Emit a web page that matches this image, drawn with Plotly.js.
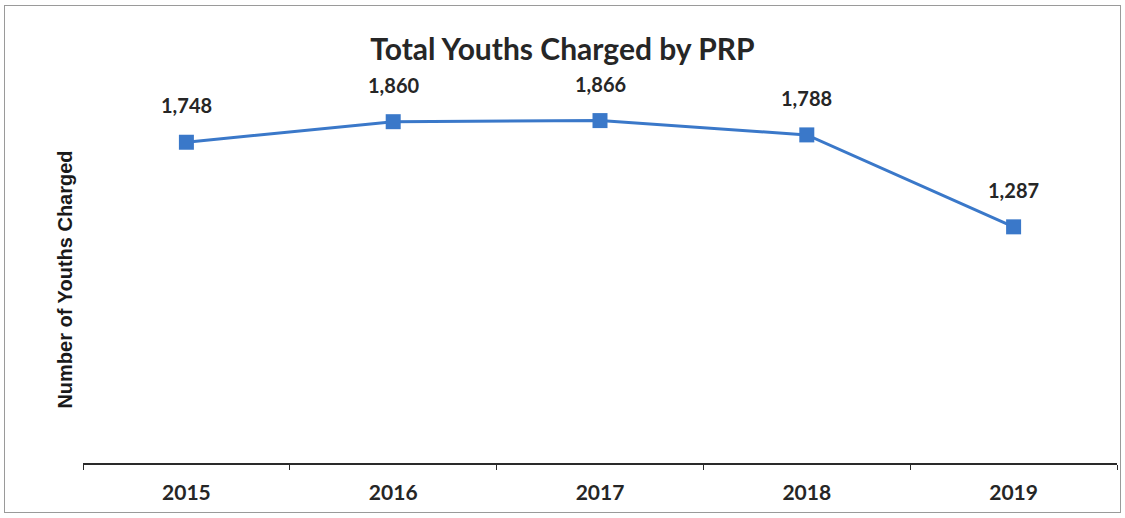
<!DOCTYPE html>
<html>
<head>
<meta charset="utf-8">
<script src="https://cdn.plot.ly/plotly-3.0.1.min.js"></script>
<style>
  html, body { margin: 0; padding: 0; background: #fff; }
  #wrap { position: relative; width: 1125px; height: 518px; }
  #chart { width: 1125px; height: 518px; }
  #frame { position: absolute; left: 4px; top: 5px; width: 1115px; height: 506px; border: 1.5px solid #9a9a9a; pointer-events: none; }
</style>
</head>
<body>
<div id="wrap">
  <div id="chart"></div>
  <div id="frame"></div>
</div>
<script>
const years = ['2015', '2016', '2017', '2018', '2019'];
const youthsCharged = [1748, 1860, 1866, 1788, 1287];
const valueLabels = ['1,748', '1,860', '1,866', '1,788', '1,287'];

const labelFont = { family: 'Lato, "Open Sans", sans-serif', size: 20, color: '#262626' };

const trace = {
  type: 'scatter',
  mode: 'lines+markers',
  x: years,
  y: youthsCharged,
  line: { color: '#3a78c9', width: 3 },
  marker: { symbol: 'square', size: 15, color: '#3a78c9' },
  cliponaxis: false,
  hoverinfo: 'x+y'
};

// category axis: annotations use the category index
const annotations = years.map((yr, i) => ({
  x: i,
  y: youthsCharged[i],
  xref: 'x',
  yref: 'y',
  text: '<b>' + valueLabels[i] + '</b>',
  showarrow: false,
  yshift: 37,
  font: labelFont
}));

const layout = {
  width: 1125,
  height: 518,
  margin: { l: 83, r: 8, t: 96, b: 55 },
  paper_bgcolor: '#ffffff',
  plot_bgcolor: '#ffffff',
  showlegend: false,
  annotations: annotations,
  title: {
    text: '<b>Total Youths Charged by PRP</b>',
    font: { family: 'Lato, "Open Sans", sans-serif', size: 30, color: '#262626' },
    x: 0.5, xanchor: 'center', y: 0.905, yanchor: 'middle'
  },
  xaxis: {
    type: 'category',
    range: [-0.5, 4.5],
    showgrid: false,
    zeroline: false,
    showline: true,
    linecolor: '#2a2a2a',
    linewidth: 1.5,
    ticks: 'outside',
    tickson: 'boundaries',
    ticklen: 5,
    tickcolor: '#2a2a2a',
    ticklabelstandoff: 10,
    tickfont: { family: 'Lato, "Open Sans", sans-serif', size: 21, color: '#262626', weight: 'bold' }
  },
  yaxis: {
    range: [0, 2000],
    showgrid: false,
    zeroline: false,
    showline: false,
    showticklabels: false,
    ticks: '',
    title: {
      text: '<b>Number of Youths Charged</b>',
      font: { family: '"Liberation Sans", Arial, sans-serif', size: 20, color: '#1a1a1a' },
      standoff: 4
    }
  }
};

Plotly.newPlot('chart', [trace], layout, { displayModeBar: false, staticPlot: true });
</script>
</body>
</html>
